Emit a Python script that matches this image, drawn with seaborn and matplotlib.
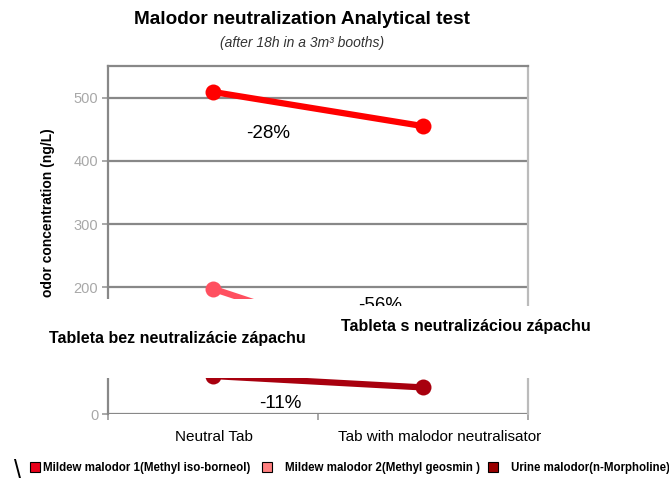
import pandas as pd
import matplotlib.pyplot as plt
import seaborn as sns
from matplotlib.patches import Rectangle, Patch

# data
tabs = ["Neutral Tab", "Tab with malodor neutralisator"]
mildew1 = [509, 455]
mildew2 = [198, 88]
urine = [60, 42]
series_names = ["Mildew malodor 1(Methyl iso-borneol)",
                "Mildew malodor 2(Methyl geosmin )",
                "Urine malodor(n-Morpholine)"]
line_colors = ["#ff0000", "#ff5060", "#a8000e"]
swatch_colors = ["#e8001a", "#ff8080", "#990000"]
pct_labels = ["-28%", "-56%", "-11%"]
yticks = [0, 100, 200, 300, 400, 500]

data = pd.DataFrame({
    "tab": tabs * 3,
    "value": mildew1 + mildew2 + urine,
    "series": [series_names[0]] * 2 + [series_names[1]] * 2 + [series_names[2]] * 2,
})

sns.set_style("white")
plt.rcParams["font.family"] = ["Liberation Sans", "DejaVu Sans"]
plt.rcParams["text.color"] = "black"

W, H = 669, 483
def fx(px):
    return px / W
def fy(py):
    return 1 - py / H

fig = plt.figure(figsize=(W / 100, H / 100), dpi=100)
ax = fig.add_axes([fx(108), fy(414), (528 - 108) / W, (414 - 66) / H])

sns.lineplot(data=data, x="tab", y="value", hue="series", palette=line_colors,
             marker="o", markersize=11.5, linewidth=4.5, markeredgewidth=0,
             legend=False, ax=ax)

ax.set_xlim(-0.5, 1.5)
ax.set_ylim(0, 550)
ax.set_yticks(yticks)
ax.set_yticklabels([str(v) for v in yticks], color="#a8a8a8", fontsize=10.5)
ax.tick_params(axis="y", length=4, width=1.2, color="#999999", direction="out", pad=3, left=True)
ax.set_xticks([0, 1])
ax.set_xticklabels([])
ax.tick_params(axis="x", length=0)
ax.set_xticks([-0.5, 0.5, 1.5], minor=True)
ax.tick_params(axis="x", which="minor", length=4, width=1.2, color="#999999", bottom=True)
ax.grid(axis="y", color="#888888", linewidth=1.6)
ax.set_axisbelow(True)
ax.set_xlabel("")
ax.set_ylabel("")
for side in ["left", "top"]:
    ax.spines[side].set_color("#888888")
    ax.spines[side].set_linewidth(1.6)
ax.spines["right"].set_color("#bbbbbb")
ax.spines["right"].set_linewidth(1.6)
ax.spines["bottom"].set_visible(False)

# category labels (second one sits a bit right of its point in the reference)
fig.text(fx(214), fy(437), tabs[0], ha="center", va="center", fontsize=11)
fig.text(fx(440), fy(437), tabs[1], ha="center", va="center", fontsize=11)

# percent change labels
fig.text(fx(268), fy(133), pct_labels[0], ha="center", va="center", fontsize=13.5)
fig.text(fx(380), fy(305), pct_labels[1], ha="center", va="center", fontsize=13.5)
fig.text(fx(280), fy(404), pct_labels[2], ha="center", va="center", fontsize=13.5)

fig.text(fx(48), fy(128), "Malodor concentration (ng/L)", rotation=90,
         ha="center", va="top", fontsize=10, fontweight="bold")

fig.text(fx(302), fy(20), "Malodor neutralization Analytical test",
         ha="center", va="center", fontsize=13.7, fontweight="bold")
fig.text(fx(302), fy(43), "(after 18h in a 3m³ booths)", ha="center", va="center",
         fontsize=10, style="italic", color="#333333")

# white boxes pasted over the middle of the chart
fig.add_artist(Rectangle((0, fy(378)), fx(330), (378 - 299) / H, transform=fig.transFigure,
                         facecolor="white", edgecolor="none", zorder=5))
fig.add_artist(Rectangle((fx(330), fy(378)), 1 - fx(330), (378 - 306) / H,
                         transform=fig.transFigure, facecolor="white", edgecolor="none", zorder=5))
fig.text(fx(177), fy(338), "Tableta bez neutralizácie zápachu", ha="center", va="center",
         fontsize=11.5, fontweight="bold", zorder=6)
fig.text(fx(466), fy(326), "Tableta s neutralizáciou zápachu", ha="center", va="center",
         fontsize=11.5, fontweight="bold", zorder=6)

# legend entries, one per series, spaced like the reference
legend_x = [30, 262, 488]
legend_pad = [0.2, 1.1, 1.1]
for name, col, lx, pad in zip(series_names, swatch_colors, legend_x, legend_pad):
    fig.legend([Patch(facecolor=col, edgecolor="black", linewidth=0.8)], [name],
               loc="center left", bbox_to_anchor=(fx(lx), fy(468)), frameon=False,
               prop={"size": 8.3, "weight": "bold"}, handlelength=0.9, handleheight=0.9,
               handletextpad=pad, borderpad=0, borderaxespad=0)
fig.text(fx(17), fy(471), "\\", ha="center", va="center", fontsize=18)

fig.savefig("out.png", dpi=100)
